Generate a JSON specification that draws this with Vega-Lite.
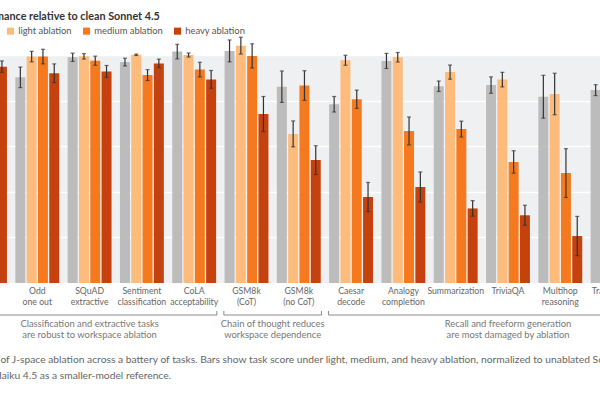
{
  "$schema": "https://vega.github.io/schema/vega-lite/v6.json",
  "width": 732.2,
  "height": 228,
  "autosize": {"type": "none"},
  "padding": {"left": -41.15, "top": 55, "right": 0, "bottom": 117},
  "background": "#ffffff",
  "config": {
    "font": "Lato",
    "view": {"fill": "#eef0f1", "stroke": null},
    "axis": {"labelFont": "Lato", "titleFont": "Lato"},
    "legend": {"labelFont": "Lato"},
    "text": {"font": "Lato"}
  },
  "title": {
    "text": "Performance relative to clean Sonnet 4.5",
    "anchor": "start",
    "frame": "group",
    "fontSize": 10.8,
    "fontWeight": "bold",
    "color": "#333333",
    "offset": 4,
    "dx": 6
  },
  "datasets": {
    "scores": [
      {"task": "NLI", "cond": "heavy ablation", "score": 0.949, "err": 0.025},
      {"task": "Odd\none out", "cond": "Haiku 4.5", "score": 0.902, "err": 0.045},
      {"task": "Odd\none out", "cond": "light ablation", "score": 0.993, "err": 0.023},
      {"task": "Odd\none out", "cond": "medium ablation", "score": 0.993, "err": 0.032},
      {"task": "Odd\none out", "cond": "heavy ablation", "score": 0.92, "err": 0.041},
      {"task": "SQuAD\nextractive", "cond": "Haiku 4.5", "score": 0.99, "err": 0.018},
      {"task": "SQuAD\nextractive", "cond": "light ablation", "score": 0.994, "err": 0.012},
      {"task": "SQuAD\nextractive", "cond": "medium ablation", "score": 0.975, "err": 0.02},
      {"task": "SQuAD\nextractive", "cond": "heavy ablation", "score": 0.928, "err": 0.026},
      {"task": "Sentiment\nclassification", "cond": "Haiku 4.5", "score": 0.969, "err": 0.017},
      {"task": "Sentiment\nclassification", "cond": "light ablation", "score": 1.001, "err": 0.003},
      {"task": "Sentiment\nclassification", "cond": "medium ablation", "score": 0.912, "err": 0.024},
      {"task": "Sentiment\nclassification", "cond": "heavy ablation", "score": 0.963, "err": 0.019},
      {"task": "CoLA\nacceptability", "cond": "Haiku 4.5", "score": 1.015, "err": 0.032},
      {"task": "CoLA\nacceptability", "cond": "light ablation", "score": 1.0, "err": 0.009},
      {"task": "CoLA\nacceptability", "cond": "medium ablation", "score": 0.936, "err": 0.032},
      {"task": "CoLA\nacceptability", "cond": "heavy ablation", "score": 0.893, "err": 0.039},
      {"task": "GSM8k\n(CoT)", "cond": "Haiku 4.5", "score": 1.018, "err": 0.048},
      {"task": "GSM8k\n(CoT)", "cond": "light ablation", "score": 1.041, "err": 0.037},
      {"task": "GSM8k\n(CoT)", "cond": "medium ablation", "score": 0.996, "err": 0.053},
      {"task": "GSM8k\n(CoT)", "cond": "heavy ablation", "score": 0.741, "err": 0.077},
      {"task": "GSM8k\n(no CoT)", "cond": "Haiku 4.5", "score": 0.861, "err": 0.069},
      {"task": "GSM8k\n(no CoT)", "cond": "light ablation", "score": 0.654, "err": 0.057},
      {"task": "GSM8k\n(no CoT)", "cond": "medium ablation", "score": 0.866, "err": 0.065},
      {"task": "GSM8k\n(no CoT)", "cond": "heavy ablation", "score": 0.539, "err": 0.063},
      {"task": "Caesar\ndecode", "cond": "Haiku 4.5", "score": 0.784, "err": 0.034},
      {"task": "Caesar\ndecode", "cond": "light ablation", "score": 0.977, "err": 0.022},
      {"task": "Caesar\ndecode", "cond": "medium ablation", "score": 0.806, "err": 0.04},
      {"task": "Caesar\ndecode", "cond": "heavy ablation", "score": 0.377, "err": 0.064},
      {"task": "Analogy\ncompletion", "cond": "Haiku 4.5", "score": 0.974, "err": 0.033},
      {"task": "Analogy\ncompletion", "cond": "light ablation", "score": 0.99, "err": 0.021},
      {"task": "Analogy\ncompletion", "cond": "medium ablation", "score": 0.667, "err": 0.061},
      {"task": "Analogy\ncompletion", "cond": "heavy ablation", "score": 0.421, "err": 0.066},
      {"task": "Summarization", "cond": "Haiku 4.5", "score": 0.863, "err": 0.023},
      {"task": "Summarization", "cond": "light ablation", "score": 0.925, "err": 0.031},
      {"task": "Summarization", "cond": "medium ablation", "score": 0.675, "err": 0.035},
      {"task": "Summarization", "cond": "heavy ablation", "score": 0.327, "err": 0.034},
      {"task": "TriviaQA", "cond": "Haiku 4.5", "score": 0.868, "err": 0.036},
      {"task": "TriviaQA", "cond": "light ablation", "score": 0.892, "err": 0.032},
      {"task": "TriviaQA", "cond": "medium ablation", "score": 0.531, "err": 0.049},
      {"task": "TriviaQA", "cond": "heavy ablation", "score": 0.297, "err": 0.044},
      {"task": "Multihop\nreasoning", "cond": "Haiku 4.5", "score": 0.817, "err": 0.094},
      {"task": "Multihop\nreasoning", "cond": "light ablation", "score": 0.829, "err": 0.091},
      {"task": "Multihop\nreasoning", "cond": "medium ablation", "score": 0.482, "err": 0.107},
      {"task": "Multihop\nreasoning", "cond": "heavy ablation", "score": 0.206, "err": 0.086},
      {"task": "Translation", "cond": "Haiku 4.5", "score": 0.846, "err": 0.024}
    ],
    "groups": [
      {"start": 0, "end": 5, "mid": 2.5, "note": "Classification and extractive tasks\nare robust to workspace ablation"},
      {"start": 5, "end": 7, "mid": 6, "note": "Chain of thought reduces\nworkspace dependence"},
      {"start": 7, "end": 14, "mid": 10.5, "note": "Recall and freeform generation\nare most damaged by ablation"}
    ]
  },
  "layer": [
    {
      "data": {"name": "scores"},
      "encoding": {
        "x": {
          "field": "task",
          "type": "nominal",
          "sort": null,
          "scale": {
            "domain": ["NLI", "Odd\none out", "SQuAD\nextractive", "Sentiment\nclassification", "CoLA\nacceptability", "GSM8k\n(CoT)", "GSM8k\n(no CoT)", "Caesar\ndecode", "Analogy\ncompletion", "Summarization", "TriviaQA", "Multihop\nreasoning", "Translation", "Story\nwriting"],
            "paddingInner": 0.134,
            "paddingOuter": 0.067
          },
          "axis": {
            "labelExpr": "split(datum.label, '\\n')",
            "labelAngle": 0,
            "labelFontSize": 8.7,
            "labelColor": "#666666",
            "labelPadding": 4,
            "labelLineHeight": 11,
            "labelBaseline": "top",
            "ticks": false,
            "domain": false,
            "title": ["Effect of J-space ablation across a battery of tasks. Bars show task score under light, medium, and heavy ablation, normalized to unablated Sonnet 4.5,", "with Haiku 4.5 as a smaller-model reference."],
            "titleAnchor": "start",
            "titleAlign": "left",
            "titleX": 12,
            "titleBaseline": "top",
            "titlePadding": 48,
            "titleFontSize": 10.3,
            "titleFontWeight": "normal",
            "titleColor": "#666666",
            "titleLineHeight": 16
          }
        },
        "xOffset": {
          "field": "cond",
          "type": "nominal",
          "sort": ["Haiku 4.5", "light ablation", "medium ablation", "heavy ablation"],
          "scale": {"domain": ["Haiku 4.5", "light ablation", "medium ablation", "heavy ablation"], "paddingInner": 0.115, "paddingOuter": 0.062}
        },
        "y": {
          "field": "score",
          "type": "quantitative",
          "scale": {"domain": [0, 1], "nice": false},
          "axis": {
            "values": [0, 0.2, 0.4, 0.6, 0.8, 1],
            "format": ".0%",
            "grid": true,
            "gridColor": "#ffffff",
            "gridWidth": 1.5,
            "domain": false,
            "ticks": false,
            "labelFontSize": 10,
            "labelColor": "#666666",
            "title": null
          }
        }
      },
      "layer": [
        {
          "mark": {"type": "bar"},
          "encoding": {
            "color": {
              "field": "cond",
              "type": "nominal",
              "sort": ["Haiku 4.5", "light ablation", "medium ablation", "heavy ablation"],
              "scale": {"domain": ["Haiku 4.5", "light ablation", "medium ablation", "heavy ablation"], "range": ["#bcbcbc", "#fdbb7c", "#f57a1f", "#c5420e"]},
              "legend": {
                "orient": "none",
                "direction": "horizontal",
                "legendX": -15,
                "legendY": -29,
                "title": null,
                "symbolType": "square",
                "symbolSize": 50,
                "symbolStrokeWidth": 0,
                "labelFontSize": 9.4,
                "labelColor": "#555555",
                "labelOffset": 3,
                "columnPadding": 10
              }
            }
          }
        },
        {
          "mark": {"type": "errorbar", "ticks": {"size": 4, "color": "#333333"}, "color": "#333333", "thickness": 1.2},
          "encoding": {
            "yError": {"field": "err"}
          }
        }
      ]
    },
    {
      "data": {"name": "groups"},
      "encoding": {
        "x": {"field": "start", "type": "quantitative", "scale": {"domain": [0, 14], "nice": false, "zero": false}, "axis": null}
      },
      "layer": [
        {
          "mark": {"type": "rule", "color": "#8a8a8a", "strokeWidth": 1, "xOffset": 3.5, "x2Offset": -3.5},
          "encoding": {
            "x2": {"field": "end"},
            "y": {"datum": -0.1404}
          }
        },
        {
          "mark": {"type": "rule", "color": "#8a8a8a", "strokeWidth": 1, "xOffset": 3.5},
          "encoding": {
            "y": {"datum": -0.1228},
            "y2": {"datum": -0.1404}
          }
        },
        {
          "mark": {"type": "rule", "color": "#8a8a8a", "strokeWidth": 1, "xOffset": -3.5},
          "encoding": {
            "x": {"field": "end", "type": "quantitative", "axis": null},
            "y": {"datum": -0.1228},
            "y2": {"datum": -0.1404}
          }
        },
        {
          "mark": {"type": "text", "lineBreak": "\n", "baseline": "top", "align": "center", "fontSize": 9.4, "color": "#777777", "lineHeight": 11},
          "encoding": {
            "x": {"field": "mid", "type": "quantitative", "axis": null},
            "y": {"datum": -0.162},
            "text": {"field": "note"}
          }
        }
      ]
    }
  ],
  "resolve": {"scale": {"x": "independent"}}
}
